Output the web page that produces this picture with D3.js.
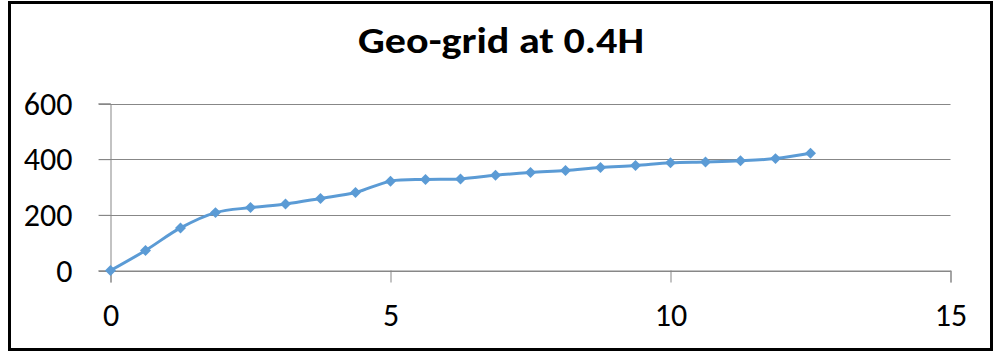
<!DOCTYPE html>
<html>
<head>
<meta charset="utf-8">
<script src="https://cdn.jsdelivr.net/npm/d3@7"></script>
<style>
  body { margin: 0; background: #fff; }
  svg { display: block; }
  text { font-family: Carlito, Calibri, "Open Sans", sans-serif; fill: #000; }
</style>
</head>
<body>
<svg id="chart" width="1000" height="353"></svg>
<script>
// data
var xValues = [0, 0.625, 1.25, 1.875, 2.5, 3.125, 3.75, 4.375, 5, 5.625, 6.25,
               6.875, 7.5, 8.125, 8.75, 9.375, 10, 10.625, 11.25, 11.875, 12.5];
var yValues = [0, 72, 153, 208, 226, 239, 259, 280, 321, 327, 329,
               342, 352, 359, 370, 377, 387, 390, 394, 402, 421];
var xTicks = [0, 5, 10, 15];
var yTicks = [0, 200, 400, 600];
var title = "Geo-grid at 0.4H";

var svg = d3.select("#chart");

// outer frame
svg.append("rect")
  .attr("x", 9.5).attr("y", 2.5)
  .attr("width", 982).attr("height", 347)
  .attr("fill", "#fff")
  .attr("stroke", "#000")
  .attr("stroke-width", 3);

var x = d3.scaleLinear().domain([0, 15]).range([110.5, 950.5]);
var y = d3.scaleLinear().domain([0, 600]).range([270.5, 103.5]);

// horizontal gridlines
svg.append("g")
  .selectAll("line")
  .data(yTicks)
  .enter()
  .append("line")
  .attr("x1", 99).attr("x2", x(15))
  .attr("y1", function(d) { return Math.round(y(d)) + 0.5; })
  .attr("y2", function(d) { return Math.round(y(d)) + 0.5; })
  .attr("stroke", "#878787")
  .attr("stroke-width", 1);

// y axis
var yAxis = svg.append("g")
  .attr("transform", "translate(" + x(0) + ",0)")
  .call(d3.axisLeft(y).tickValues(yTicks).tickSize(12).tickPadding(26));
yAxis.select(".domain").attr("stroke", "#878787");
yAxis.selectAll(".tick line").attr("stroke", "#878787");
yAxis.selectAll(".tick text")
  .attr("font-size", 32)
  .attr("dy", "0.33em")
  .style("font-family", "Carlito, Calibri, 'Open Sans', sans-serif");

// x axis
var xAxis = svg.append("g")
  .attr("transform", "translate(0," + y(0) + ")")
  .call(d3.axisBottom(x).tickValues(xTicks).tickSize(12).tickPadding(21));
xAxis.select(".domain").attr("stroke", "#878787");
xAxis.selectAll(".tick line").attr("stroke", "#878787");
xAxis.selectAll(".tick text")
  .attr("font-size", 32)
  .style("font-family", "Carlito, Calibri, 'Open Sans', sans-serif");

var points = xValues.map(function(d, i) { return [d, yValues[i]]; });

// smoothed series line
var line = d3.line()
  .x(function(d) { return x(d[0]); })
  .y(function(d) { return y(d[1]); })
  .curve(d3.curveCatmullRom.alpha(0.5));

svg.append("path")
  .datum(points)
  .attr("d", line)
  .attr("fill", "none")
  .attr("stroke", "#5B9BD5")
  .attr("stroke-width", 3)
  .attr("stroke-linejoin", "round");

// diamond markers
var diamond = {
  draw: function(context, size) {
    var r = Math.sqrt(size / 2);
    context.moveTo(0, -r);
    context.lineTo(r, 0);
    context.lineTo(0, r);
    context.lineTo(-r, 0);
    context.closePath();
  }
};

svg.append("g")
  .selectAll("path")
  .data(points)
  .enter()
  .append("path")
  .attr("transform", function(d) { return "translate(" + x(d[0]) + "," + y(d[1]) + ")"; })
  .attr("d", d3.symbol().type(diamond).size(60))
  .attr("fill", "#5B9BD5");

// title
svg.append("text")
  .attr("x", 501)
  .attr("y", 53)
  .attr("text-anchor", "middle")
  .attr("font-size", 37)
  .attr("font-weight", "bold")
  .attr("textLength", 286)
  .attr("lengthAdjust", "spacingAndGlyphs")
  .text(title);
</script>
</body>
</html>
